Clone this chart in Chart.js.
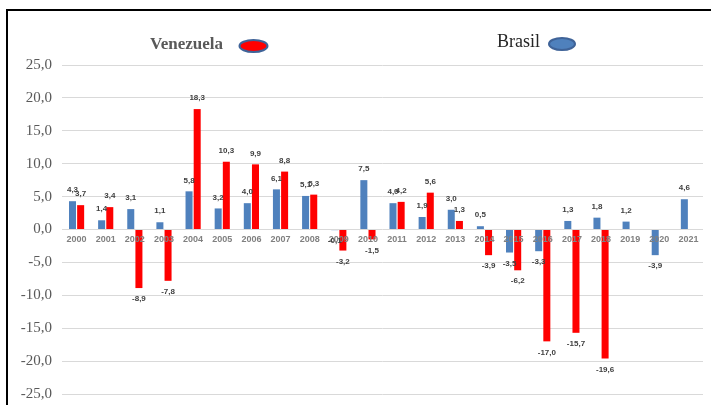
<!DOCTYPE html>
<html>
<head>
<meta charset="utf-8">
<script src="https://cdn.jsdelivr.net/npm/chart.js@4/dist/chart.umd.min.js"></script>
<style>
  html, body { margin: 0; padding: 0; background: #fff; }
  #wrap { width: 711px; height: 405px; }
</style>
</head>
<body>
<div id="wrap"><canvas id="chart1"></canvas></div>
<script>
var anos = ['2000', '2001', '2002', '2003', '2004', '2005', '2006', '2007', '2008', '2009', '2010',
  '2011', '2012', '2013', '2014', '2015', '2016', '2017', '2018', '2019', '2020', '2021']
var brasil = [4.3, 1.4, 3.1, 1.1, 5.8, 3.2, 4.0, 6.1, 5.1, -0.1, 7.5,
  4.0, 1.9, 3.0, 0.5, -3.5, -3.3, 1.3, 1.8, 1.2, -3.9, 4.6]
var venezuela = [3.7, 3.4, -8.9, -7.8, 18.3, 10.3, 9.9, 8.8, 5.3, -3.2, -1.5,
  4.2, 5.6, 1.3, -3.9, -6.2, -17.0, -15.7, -19.6, null, null, null]
var eixoY = { min: -25, max: 25, passo: 5 }

function virgula (v) {
  return v.toFixed(1).replace('.', ',')
}

// fundo e moldura preta
var moldura = {
  id: 'moldura',
  beforeDraw: function (chart) {
    var c = chart.ctx
    c.save()
    c.fillStyle = '#fff'
    c.fillRect(0, 0, chart.width, chart.height)
    c.strokeStyle = '#000'
    c.lineWidth = 2
    c.beginPath()
    c.moveTo(6, 10)
    c.lineTo(chart.width, 10)
    c.moveTo(7, 10)
    c.lineTo(7, chart.height)
    c.stroke()
    c.restore()
  }
}

// anos na linha do zero + rotulos dos valores
var rotulos = {
  id: 'rotulos',
  afterDatasetsDraw: function (chart) {
    var c = chart.ctx
    var sx = chart.scales.x
    var y0 = chart.scales.y.getPixelForValue(0)
    c.save()
    c.textAlign = 'center'
    c.textBaseline = 'middle'
    c.font = 'bold 9px "Liberation Sans"'
    c.fillStyle = '#808080'
    chart.data.labels.forEach(function (lab, i) {
      c.fillText(lab, sx.getPixelForValue(i), y0 + 10)
    })
    c.font = 'bold 8px "Liberation Sans"'
    c.fillStyle = '#404040'
    chart.data.datasets.forEach(function (ds, i) {
      var meta = chart.getDatasetMeta(i)
      meta.data.forEach(function (el, j) {
        var v = ds.data[j]
        if (v === null) return
        var y = v >= 0 ? el.y - 11 : el.y + 11
        c.fillText(virgula(v), el.x, y)
      })
    })
    c.restore()
  }
}

// legenda com elipses
var legenda = {
  id: 'legenda',
  afterDraw: function (chart) {
    var c = chart.ctx
    var ds = chart.data.datasets
    c.save()
    c.textBaseline = 'alphabetic'
    c.textAlign = 'left'
    c.font = 'bold 17px "Liberation Serif"'
    c.fillStyle = '#595959'
    c.fillText(ds[1].label, 150, 49)
    c.font = '18px "Liberation Serif"'
    c.fillStyle = '#262626'
    c.fillText(ds[0].label, 497, 47)
    c.lineWidth = 2
    c.strokeStyle = '#3f6398'
    c.beginPath()
    c.ellipse(253.5, 46, 14, 6, 0, 0, Math.PI * 2)
    c.fillStyle = ds[1].backgroundColor
    c.fill()
    c.stroke()
    c.beginPath()
    c.ellipse(562, 44, 13, 6, 0, 0, Math.PI * 2)
    c.fillStyle = ds[0].backgroundColor
    c.fill()
    c.stroke()
    c.restore()
  }
}

var ctx1 = document.getElementById('chart1').getContext('2d')
var myChart1 = new Chart(ctx1, {
  type: 'bar',
  data: {
    labels: anos,
    datasets: [
      {
        label: 'Brasil',
        data: brasil,
        backgroundColor: '#4f81bd',
        barPercentage: 0.86,
        categoryPercentage: 0.56
      },
      {
        label: 'Venezuela',
        data: venezuela,
        backgroundColor: '#ff0000',
        barPercentage: 0.86,
        categoryPercentage: 0.56
      }
    ]
  },
  options: {
    responsive: true,
    maintainAspectRatio: false,
    animation: false,
    layout: { padding: { left: 0, top: 65, right: 8, bottom: 11 } },
    plugins: {
      legend: { display: false },
      tooltip: { enabled: false }
    },
    scales: {
      x: {
        display: false
      },
      y: {
        min: eixoY.min,
        max: eixoY.max,
        afterFit: function (scale) {
          scale.width = 62
          scale.paddingTop = 0
          scale.paddingBottom = 0
        },
        grid: { color: '#d9d9d9', lineWidth: 1, drawTicks: false },
        border: { display: false },
        ticks: {
          stepSize: eixoY.passo,
          padding: 10,
          color: '#595959',
          font: { family: 'Liberation Serif', size: 15 },
          callback: function (v) { return virgula(v) }
        }
      }
    }
  },
  plugins: [moldura, rotulos, legenda]
})
</script>
</body>
</html>
